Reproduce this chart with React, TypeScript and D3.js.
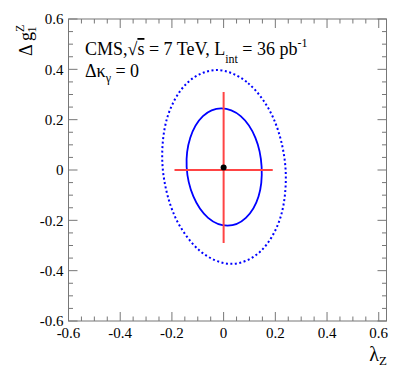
import React from 'react';
import * as d3 from 'd3';

// 68% CL contour (solid): [lambdaZ, dg1Z]
const contour68: [number, number][] = [
  [-0.009, 0.245], [0.066, 0.214], [0.123, 0.128], [0.147, 0.012],
  [0.135, -0.105], [0.086, -0.190], [0.015, -0.221], [-0.060, -0.190],
  [-0.117, -0.105], [-0.143, 0.012], [-0.129, 0.128], [-0.080, 0.214],
];

// 95% CL contour (dotted)
const contour95: [number, number][] = [
  [-0.027, 0.397], [0.095, 0.345], [0.193, 0.205], [0.239, 0.012],
  [0.222, -0.181], [0.145, -0.321], [0.030, -0.373], [-0.092, -0.321],
  [-0.190, -0.181], [-0.236, 0.012], [-0.219, 0.205], [-0.142, 0.345],
];

// 1D limits (red cross) and best fit point
const limitLambda = [-0.19, 0.19];
const limitG1 = [-0.29, 0.31];
const bestFit: [number, number] = [0, 0.01];

const xTickLabels = [-0.6, -0.4, -0.2, 0, 0.2, 0.4, 0.6];
const yTickLabels = [-0.6, -0.4, -0.2, 0, 0.2, 0.4, 0.6];
const minorStep = 0.05;

const FONT = "'Liberation Serif', 'DejaVu Serif', serif";

const App = () => {
  const W = 407;
  const H = 387;
  const frame = { left: 68.5, right: 386.5, top: 19, bottom: 321 };

  const x = d3.scaleLinear().domain([-0.6, 0.63]).range([frame.left, frame.right]);
  const y = d3.scaleLinear().domain([-0.6, 0.6]).range([frame.bottom, frame.top]);

  const line = d3.line<[number, number]>()
    .x(d => x(d[0]))
    .y(d => y(d[1]))
    .curve(d3.curveCardinalClosed.tension(0));

  const minorX = d3.range(-0.6, 0.63 + 1e-9, minorStep);
  const minorY = d3.range(-0.6, 0.6 + 1e-9, minorStep);
  const isMajor = (v: number) => Math.abs(Math.round(v / 0.2) * 0.2 - v) < 1e-6;

  const majLen = 9;
  const minLen = 4.5;
  const axisColor = '#777';
  const txt = { fontFamily: FONT };

  return (
    <svg width={W} height={H} style={{ position: 'absolute', left: 0, top: 0, background: '#fff', fontFamily: FONT }}>
      <rect x={0} y={0} width={W} height={H} fill="#fff" />

      {/* frame */}
      <rect x={frame.left} y={frame.top} width={frame.right - frame.left} height={frame.bottom - frame.top}
        fill="none" stroke={axisColor} strokeWidth={1} />

      {/* x ticks, bottom and top */}
      {minorX.map((v, i) => {
        const len = isMajor(v) ? majLen : minLen;
        const px = x(v);
        return (
          <g key={`xt-${i}`} stroke={axisColor} strokeWidth={1}>
            <line x1={px} x2={px} y1={frame.bottom} y2={frame.bottom - len} />
            <line x1={px} x2={px} y1={frame.top} y2={frame.top + len} />
          </g>
        );
      })}

      {/* y ticks, left and right */}
      {minorY.map((v, i) => {
        const len = isMajor(v) ? majLen : minLen;
        const py = y(v);
        return (
          <g key={`yt-${i}`} stroke={axisColor} strokeWidth={1}>
            <line x1={frame.left} x2={frame.left + len} y1={py} y2={py} />
            <line x1={frame.right} x2={frame.right - len} y1={py} y2={py} />
          </g>
        );
      })}

      {/* tick labels */}
      {xTickLabels.map(t => (
        <text key={`xl-${t}`} x={x(t)} y={338} textAnchor="middle" fontSize={15} fill="#000" style={txt}>
          {t === 0 ? '0' : t.toFixed(1)}
        </text>
      ))}
      {yTickLabels.map(t => (
        <text key={`yl-${t}`} x={frame.left - 5} y={y(t)} dy="0.35em" textAnchor="end" fontSize={15} fill="#000" style={txt}>
          {t === 0 ? '0' : t.toFixed(1)}
        </text>
      ))}

      {/* axis titles */}
      <text x={387} y={361} textAnchor="end" fontSize={20} fill="#000" style={txt}>
        λ<tspan fontSize={13} dy={4}>Z</tspan>
      </text>
      <text transform="translate(32,56) rotate(-90)" fontSize={18} fill="#000" style={txt}>
        Δ g<tspan fontSize={12} dy={-8}>Z</tspan><tspan fontSize={12} dx={-8} dy={12}>1</tspan>
      </text>

      {/* contours */}
      <path d={line(contour95) ?? ''} fill="none" stroke="#0000ff" strokeWidth={2} strokeDasharray="2,2.5" />
      <path d={line(contour68) ?? ''} fill="none" stroke="#0000ff" strokeWidth={1.8} />

      {/* 1D limits */}
      <line x1={x(limitLambda[0])} x2={x(limitLambda[1])} y1={y(0)} y2={y(0)} stroke="#ff4444" strokeWidth={2} />
      <line x1={x(0)} x2={x(0)} y1={y(limitG1[0])} y2={y(limitG1[1])} stroke="#ff4444" strokeWidth={2} />

      <circle cx={x(bestFit[0])} cy={y(bestFit[1])} r={3} fill="#000" />

      {/* labels */}
      <text x={85} y={55} fontSize={18} fill="#000" style={txt}>
        CMS,√<tspan textDecoration="overline">s</tspan> = 7 TeV, L<tspan fontSize={12} dy={8}>int</tspan>
        <tspan dy={-8}> = 36 pb</tspan><tspan fontSize={12} dy={-8}>-1</tspan>
      </text>
      <text x={85} y={77} fontSize={18} fill="#000" style={txt}>
        Δκ<tspan fontSize={12} dy={5}>γ</tspan><tspan dy={-5}> = 0</tspan>
      </text>
    </svg>
  );
};

export default App;
